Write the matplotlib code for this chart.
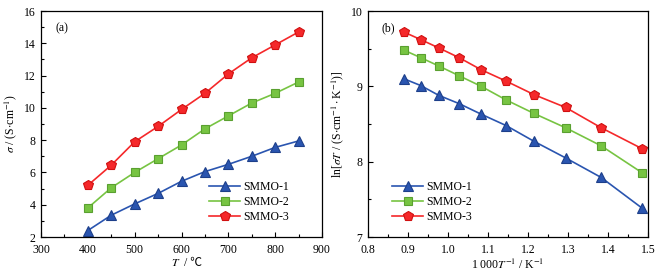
import matplotlib
matplotlib.use("Agg")
import matplotlib.pyplot as plt
from matplotlib.ticker import MultipleLocator, FormatStrFormatter

plt.rcParams['font.family'] = ['Liberation Serif', 'Noto Sans CJK SC', 'DejaVu Sans']
plt.rcParams['mathtext.fontset'] = 'stix'
plt.rcParams['font.size'] = 8.5

T = [400, 450, 500, 550, 600, 650, 700, 750, 800, 850]
sig1 = [2.4, 3.35, 4.05, 4.7, 5.45, 6.05, 6.5, 7.0, 7.55, 7.95]
sig2 = [3.8, 5.05, 6.0, 6.85, 7.7, 8.7, 9.5, 10.3, 10.9, 11.6]
sig3 = [5.2, 6.45, 7.9, 8.85, 9.9, 10.9, 12.1, 13.1, 13.9, 14.7]

invT = [1.486, 1.383, 1.294, 1.215, 1.145, 1.083, 1.028, 0.977, 0.932, 0.890]
ln1 = [7.38, 7.79, 8.05, 8.27, 8.48, 8.63, 8.77, 8.88, 9.01, 9.10]
ln2 = [7.85, 8.21, 8.45, 8.64, 8.82, 9.00, 9.14, 9.27, 9.38, 9.48]
ln3 = [8.17, 8.45, 8.72, 8.89, 9.07, 9.22, 9.38, 9.51, 9.62, 9.72]

labels = ['SMMO-1', 'SMMO-2', 'SMMO-3']
colors = ['#2a55b0', '#77c442', '#f5282a']
edges = ['#1d3f8a', '#5aa030', '#d01010']
markers = ['^', 's', 'p']
msizes = [7, 5.5, 7.5]

fig = plt.figure(figsize=(6.62, 2.76), dpi=100)
ax1 = fig.add_axes([41/662, 1-237/276, 281/662, 226/276])
ax2 = fig.add_axes([368/662, 1-237/276, 280/662, 226/276])

for ys, c, e, m, ms, lab in zip([sig1, sig2, sig3], colors, edges, markers, msizes, labels):
    ax1.plot(T, ys, color=c, marker=m, markersize=ms, markerfacecolor=c,
             markeredgecolor=e, markeredgewidth=0.8, lw=1.2, label=lab)
for ys, c, e, m, ms, lab in zip([ln1, ln2, ln3], colors, edges, markers, msizes, labels):
    ax2.plot(invT, ys, color=c, marker=m, markersize=ms, markerfacecolor=c,
             markeredgecolor=e, markeredgewidth=0.8, lw=1.2, label=lab)

ax1.set_xlim(300, 900)
ax1.set_ylim(2, 16)
ax1.xaxis.set_major_locator(MultipleLocator(100))
ax1.xaxis.set_minor_locator(MultipleLocator(50))
ax1.yaxis.set_major_locator(MultipleLocator(2))
ax1.yaxis.set_minor_locator(MultipleLocator(1))
# x label split so that the ℃ sign uses a font that has it
ax1.text(0.497, -0.087, r'$T$', transform=ax1.transAxes, ha='right', va='top')
ax1.text(0.497, -0.087, ' / ℃', transform=ax1.transAxes, ha='left', va='top',
         family=['Liberation Serif', 'Noto Sans CJK SC'])
ax1.set_ylabel(r'$\sigma$ / (S$\cdot$cm$^{-1}$)', labelpad=3)
ax1.text(0.05, 0.95, '(a)', transform=ax1.transAxes, va='top', ha='left')
ax1.legend(loc='lower right', bbox_to_anchor=(0.9, 0.04), frameon=False,
           handlelength=2.6, handletextpad=0.3, labelspacing=0.25, borderaxespad=0)

ax2.set_xlim(0.8, 1.5)
ax2.set_ylim(7, 10)
ax2.xaxis.set_major_locator(MultipleLocator(0.1))
ax2.xaxis.set_minor_locator(MultipleLocator(0.05))
ax2.yaxis.set_major_locator(MultipleLocator(1))
ax2.yaxis.set_minor_locator(MultipleLocator(0.5))
ax2.xaxis.set_major_formatter(FormatStrFormatter('%.1f'))
ax2.set_xlabel(r'1 000$T^{-1}$ / K$^{-1}$', labelpad=1)
ax2.set_ylabel(r'ln[$\sigma T$ / (S$\cdot$cm$^{-1}\cdot$K$^{-1}$)]', labelpad=3)
ax2.text(0.05, 0.95, '(b)', transform=ax2.transAxes, va='top', ha='left')
ax2.legend(loc='lower left', bbox_to_anchor=(0.07, 0.04), frameon=False,
           handlelength=2.6, handletextpad=0.3, labelspacing=0.25, borderaxespad=0)

for ax in (ax1, ax2):
    ax.tick_params(which='both', direction='in', top=False, right=False)
    ax.tick_params(which='major', length=3.5, width=0.8)
    ax.tick_params(axis='x', which='major', pad=5)
    ax.tick_params(axis='y', which='major', pad=4)
    ax.tick_params(which='minor', length=2, width=0.8)
    for s in ax.spines.values():
        s.set_linewidth(0.9)

fig.savefig('out.png', dpi=100)
